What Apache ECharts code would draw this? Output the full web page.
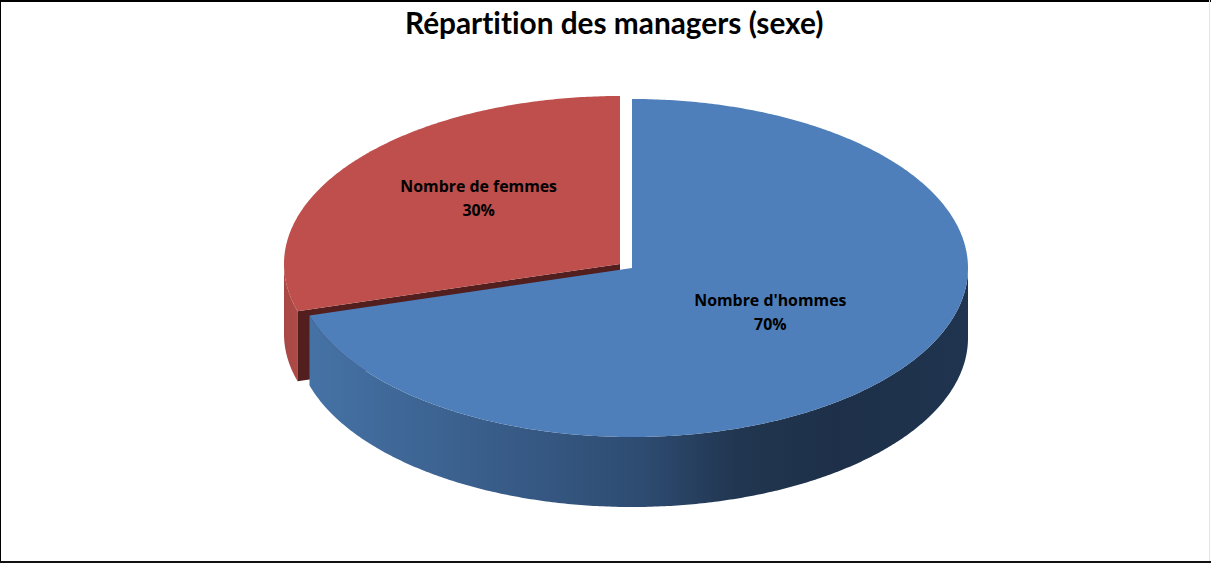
<!DOCTYPE html>
<html>
<head>
<meta charset="utf-8">
<title>Répartition des managers (sexe)</title>
<script src="https://cdn.jsdelivr.net/npm/echarts@6/dist/echarts.min.js"></script>
<style>
  html, body { margin: 0; padding: 0; background: #fff; }
  #main { width: 1211px; height: 563px; }
  #main text { font-variant-ligatures: none; }
</style>
</head>
<body>
<div id="main"></div>
<script>
const categories = ["Nombre d'hommes", 'Nombre de femmes']
const values = [70, 30]

// one entry per slice: pie position, colours and where the label sits
const centers = [[632, 268], [620, 264]]
const radiiY = [169, 168]
const topColors = ['#4e7fba', '#be4f4c']
const sideStops = [
  [[0, '#4572a5'], [0.25, '#3a5f8c'], [0.5, '#2e4c72'], [0.65, '#213650'], [0.8, '#1e3049'], [1, '#1f344f']],
  [[0, '#a84844'], [1, '#ad4a47']]
]
const labelShift = [[-3, -8], [0, -14.5]]

const radiusX = 336
const depth = 70
const tiltWarp = 2.9
const cutColor = '#521e1e'
const titleFont = 'Lato, Carlito, sans-serif'
const labelFont = '"Open Sans", sans-serif'

const total = values.reduce((a, b) => a + b, 0)

// a tilted circle does not keep its angles, so bend them a little
function point(cx, cy, ry, deg) {
  const t = (deg + tiltWarp * Math.sin(2 * deg * Math.PI / 180)) * Math.PI / 180
  return [cx + radiusX * Math.sin(t), cy - ry * Math.cos(t)]
}

function arc(cx, cy, ry, from, to) {
  const pts = []
  for (let d = from; d <= to; d += 0.5) pts.push(point(cx, cy, ry, d))
  pts.push(point(cx, cy, ry, to))
  return pts
}

function drop(pts) {
  return pts.map(p => [p[0], p[1] + depth]).reverse()
}

function renderSlice(params, api) {
  const i = params.dataIndex
  let before = 0
  for (let k = 0; k < i; k++) before += values[k]
  const from = before / total * 360
  const to = (before + api.value(0)) / total * 360
  const [cx, cy] = centers[i]
  const ry = radiiY[i]
  // first slice in the list sits in front
  const base = (values.length - i) * 10
  const children = []

  // outer wall, only the front half of the pie shows
  const a = Math.max(from, 90)
  const b = Math.min(to, 270)
  if (a < b) {
    const edge = arc(cx, cy, ry, a, b)
    children.push({
      type: 'polygon',
      z2: base,
      shape: { points: edge.concat(drop(edge)) },
      style: {
        fill: new echarts.graphic.LinearGradient(0, 0, 1, 0,
          sideStops[i].map(s => ({ offset: s[0], color: s[1] })))
      }
    })
  }

  // cut face when the slice starts in the front half
  if (from > 90 && from < 270) {
    const rim = point(cx, cy, ry, from)
    const edge = [[cx, cy], rim]
    children.push({
      type: 'polygon',
      z2: base + 1,
      shape: { points: edge.concat(drop(edge)) },
      style: { fill: cutColor }
    })
  }

  children.push({
    type: 'polygon',
    z2: base + 2,
    shape: { points: [[cx, cy]].concat(arc(cx, cy, ry, from, to)) },
    style: { fill: topColors[i] }
  })

  const midAngle = (from + to) / 2 * Math.PI / 180
  children.push({
    type: 'text',
    z2: 100,
    style: {
      x: cx + radiusX * 0.52 * Math.sin(midAngle) + labelShift[i][0],
      y: cy - ry * 0.52 * Math.cos(midAngle) + labelShift[i][1],
      text: categories[i] + '\n' + Math.round(api.value(0) / total * 100) + '%',
      align: 'center',
      verticalAlign: 'middle',
      fill: '#000',
      font: 'bold 15.9px ' + labelFont,
      lineHeight: 24
    }
  })

  return { type: 'group', children }
}

const option = {
  animation: false,
  backgroundColor: '#fff',
  title: {
    text: 'Répartition des managers (sexe)',
    left: 400,
    top: 2,
    textStyle: {
      fontFamily: titleFont,
      fontWeight: 'bold',
      fontSize: 29.8,
      color: '#000'
    }
  },
  graphic: [
    { type: 'rect', shape: { x: 0, y: 0, width: 1211, height: 2 }, style: { fill: '#000' } },
    { type: 'rect', shape: { x: 0, y: 0, width: 1, height: 563 }, style: { fill: '#000' } },
    { type: 'rect', shape: { x: 0, y: 561, width: 1211, height: 2 }, style: { fill: '#111' } },
    { type: 'rect', shape: { x: 1209, y: 0, width: 1, height: 561 }, style: { fill: '#e4e4e4' } }
  ],
  series: [
    {
      type: 'custom',
      coordinateSystem: 'none',
      renderItem: renderSlice,
      data: values.map(v => [v])
    }
  ]
}

// svg so the css above can switch off the "ti" ligature in the title
const chart = echarts.init(document.getElementById('main'), null, { renderer: 'svg' })
chart.setOption(option)
</script>
</body>
</html>
